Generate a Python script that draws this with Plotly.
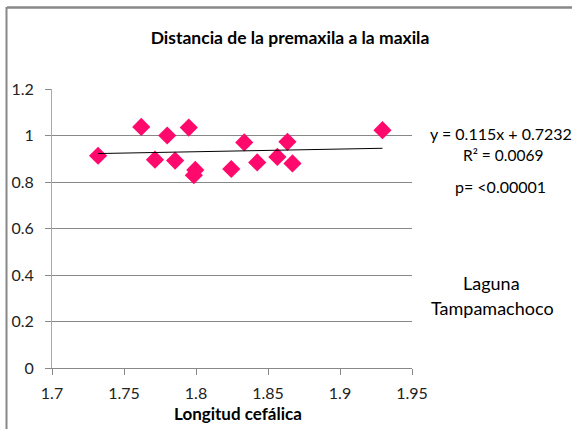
import plotly.graph_objects as go

# Longitud cefálica vs distancia de la premaxila a la maxila
longitud = [1.732, 1.762, 1.7715, 1.780, 1.7855, 1.795, 1.7995, 1.7985,
            1.8245, 1.8335, 1.8425, 1.8565, 1.8635, 1.8670, 1.9295]
distancia = [0.913, 1.037, 0.896, 1.000, 0.892, 1.034, 0.852, 0.829,
             0.856, 0.970, 0.884, 0.908, 0.973, 0.880, 1.023]

# Linear trend: y = 0.115x + 0.7232
slope = 0.115
intercept = 0.7232
trend_x = [min(longitud), max(longitud)]
trend_y = [slope * v + intercept for v in trend_x]

x_ticks = [1.7, 1.75, 1.8, 1.85, 1.9, 1.95]
y_ticks = [0, 0.2, 0.4, 0.6, 0.8, 1.0, 1.2]
x_tick_text = ["1.7", "1.75", "1.8", "1.85", "1.9", "1.95"]
y_tick_text = ["0", "0.2", "0.4", "0.6", "0.8", "1", "1.2"]

FONT = "Lato, 'Open Sans', sans-serif"

fig = go.Figure()
fig.add_trace(go.Scatter(
    x=longitud, y=distancia, mode="markers",
    marker=dict(symbol="diamond", size=14, color="#FF0A6C",
                line=dict(width=0)),
    showlegend=False, hoverinfo="x+y",
))
fig.add_trace(go.Scatter(
    x=trend_x, y=trend_y, mode="lines",
    line=dict(color="#000000", width=1),
    showlegend=False, hoverinfo="skip",
))

fig.update_layout(
    width=572, height=429,
    margin=dict(l=52, r=160, t=89, b=61),
    paper_bgcolor="white", plot_bgcolor="white",
    font=dict(family=FONT, color="#000000", size=15),
    title=dict(text="<b>Distancia de la premaxila a la maxila</b>",
               x=0.507, xanchor="center", y=1 - 38 / 429, yanchor="middle",
               font=dict(family=FONT, size=17.5, color="#000000")),
    xaxis=dict(range=[1.7, 1.95], tickvals=x_ticks, ticktext=x_tick_text,
               showgrid=False, zeroline=False,
               showline=True, linecolor="#888888", linewidth=1,
               ticks="outside", ticklen=6, tickcolor="#888888",
               ticklabelstandoff=5,
               tickfont=dict(family=FONT, size=16, color="#222222")),
    yaxis=dict(range=[0, 1.2], tickvals=y_ticks, ticktext=y_tick_text,
               showgrid=True, gridcolor="#888888", gridwidth=1,
               zeroline=False,
               showline=True, linecolor="#AAAAAA", linewidth=1,
               ticks="outside", ticklen=6, tickcolor="#888888",
               ticklabelstandoff=8,
               tickfont=dict(family=FONT, size=16, color="#222222")),
)

# Outer chart border (top and left edges)
fig.add_shape(type="line", xref="paper", yref="paper",
              x0=-45 / 360, x1=520 / 360, y0=(368 - 7.5) / 279, y1=(368 - 7.5) / 279,
              line=dict(color="#888888", width=2.5))
fig.add_shape(type="line", xref="paper", yref="paper",
              x0=-45.5 / 360, x1=-45.5 / 360, y0=-70 / 279, y1=(368 - 7) / 279,
              line=dict(color="#888888", width=2))


def px_to_paper(px, py):
    return (px - 52) / 360, (368 - py) / 279


# Axis title placed as an annotation so it sits slightly right of centre
tx, ty = px_to_paper(238, 413)
fig.add_annotation(text="<b>Longitud cefálica</b>", x=tx, y=ty,
                   xref="paper", yref="paper", showarrow=False,
                   xanchor="center", yanchor="middle",
                   font=dict(family=FONT, size=17, color="#000000"))

notes = [
    ("y = 0.115x + 0.7232", 501, 133, 16),
    ("R² = 0.0069", 503, 155, 15.5),
    ("p= &lt;0.00001", 500, 186, 16),
    ("Laguna", 491, 283, 18),
    ("Tampamachoco", 492, 308, 18),
]
for text, px, py, size in notes:
    ax, ay = px_to_paper(px, py)
    fig.add_annotation(text=text, x=ax, y=ay, xref="paper", yref="paper",
                       showarrow=False, xanchor="center", yanchor="middle",
                       font=dict(family=FONT, size=size, color="#000000"))

fig.write_html("out.html")
